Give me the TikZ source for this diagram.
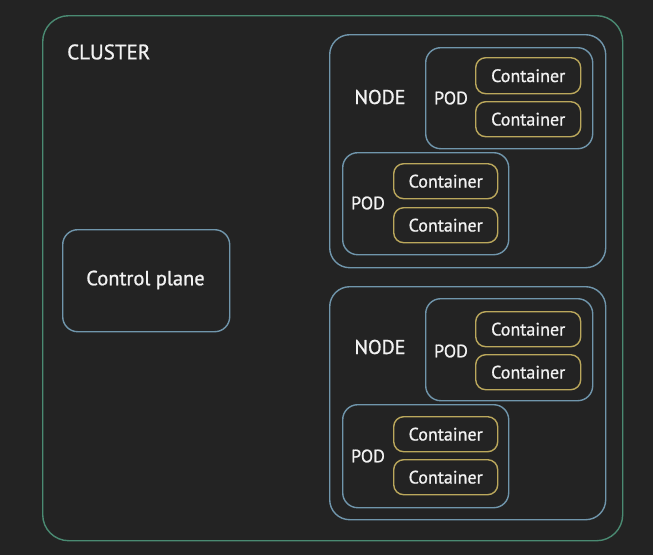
\documentclass[tikz,border=0pt]{standalone}
\usepackage{fontspec}
\setmainfont{PT Sans}[FakeBold=0.9]
\definecolor{bg}{HTML}{232323}
\definecolor{clgreen}{HTML}{4A8A72}
\definecolor{bluegray}{HTML}{7096AC}
\definecolor{gold}{HTML}{BBA85C}
\definecolor{txt}{HTML}{F2F2F2}
\begin{document}
\begin{tikzpicture}[x=1pt,y=-1pt,
  box/.style={draw, rounded corners=#1, line width=1.4pt, anchor=north west, inner sep=0pt},
  box/.default=14pt,
  clusterbox/.style={box=26pt, draw=clgreen},
  nodebox/.style={box=20pt, draw=bluegray},
  podbox/.style={box=15pt, draw=bluegray},
  contbox/.style={box=10pt, draw=gold},
  cptbox/.style={box=15pt, draw=bluegray},
  lbl/.style={text=txt, font=\fontsize{18}{21}\selectfont, inner sep=0pt},
  biglbl/.style={text=txt, font=\fontsize{20}{24}\selectfont, inner sep=0pt},
]
\fill[bg] (0,0) rectangle (653,555);
\useasboundingbox (0,0) rectangle (653,555);

\node[clusterbox, minimum width=580pt, minimum height=525pt] (cluster) at (42,15) {};
\node[biglbl, anchor=west, font=\fontsize{21}{24}\selectfont] (clusterlbl) at (67,52) {CLUSTER};

\node[cptbox, minimum width=167pt, minimum height=102pt] (cp) at (62,229) {};
\node[lbl, font=\fontsize{20.5}{24}\selectfont] (cplbl) at (145.5,280) {Control plane};

% Node 1
\node[nodebox, minimum width=276pt, minimum height=233pt] (n1) at (329,34) {};
\node[biglbl] (n1lbl) at (380,97) {NODE};
\node[podbox, minimum width=167pt, minimum height=101pt] (n1p1) at (425,47) {};
\node[lbl] (n1p1lbl) at (451,98) {POD};
\node[contbox, minimum width=105pt, minimum height=36pt] (n1p1c1) at (475,57) {};
\node[lbl] at (n1p1c1.center) {Container};
\node[contbox, minimum width=105pt, minimum height=35pt] (n1p1c2) at (475,101) {};
\node[lbl] at (n1p1c2.center) {Container};
\node[podbox, minimum width=166pt, minimum height=102pt] (n1p2) at (342,152) {};
\node[lbl] (n1p2lbl) at (368,203) {POD};
\node[contbox, minimum width=104pt, minimum height=35pt] (n1p2c1) at (393,163) {};
\node[lbl] at (n1p2c1.center) {Container};
\node[contbox, minimum width=104pt, minimum height=35pt] (n1p2c2) at (393,207) {};
\node[lbl] at (n1p2c2.center) {Container};

% Node 2
\node[nodebox, minimum width=276pt, minimum height=233pt] (n2) at (329,286) {};
\node[biglbl] (n2lbl) at (380,347) {NODE};
\node[podbox, minimum width=167pt, minimum height=102pt] (n2p1) at (425,298) {};
\node[lbl] (n2p1lbl) at (451,351) {POD};
\node[contbox, minimum width=105pt, minimum height=35pt] (n2p1c1) at (475,311) {};
\node[lbl] at (n2p1c1.center) {Container};
\node[contbox, minimum width=105pt, minimum height=35pt] (n2p1c2) at (475,354) {};
\node[lbl] at (n2p1c2.center) {Container};
\node[podbox, minimum width=166pt, minimum height=103pt] (n2p2) at (342,404) {};
\node[lbl] (n2p2lbl) at (368,456) {POD};
\node[contbox, minimum width=104pt, minimum height=35pt] (n2p2c1) at (393,416) {};
\node[lbl] at (n2p2c1.center) {Container};
\node[contbox, minimum width=104pt, minimum height=35pt] (n2p2c2) at (393,459) {};
\node[lbl] at (n2p2c2.center) {Container};
\end{tikzpicture}
\end{document}
